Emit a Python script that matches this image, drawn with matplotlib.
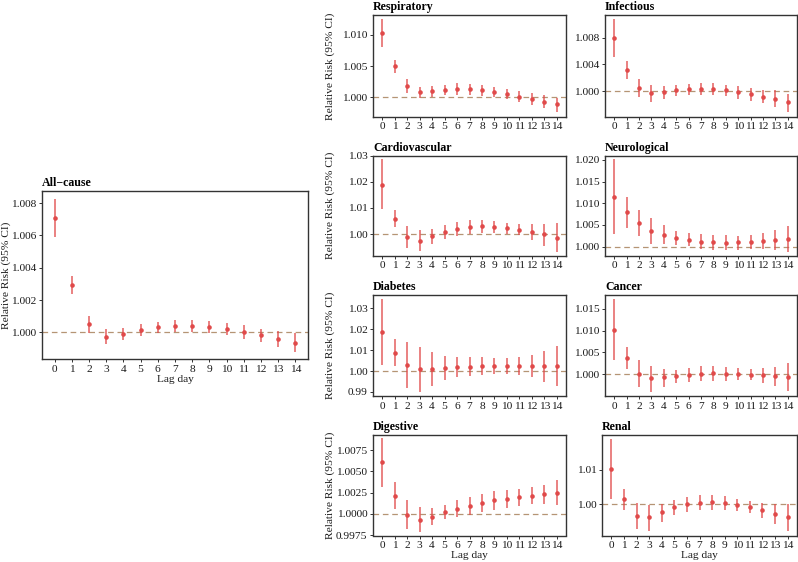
import matplotlib
matplotlib.use("Agg")
import matplotlib.pyplot as plt

plt.rcParams['font.family'] = ['Liberation Serif', 'DejaVu Serif']

# lag days 0..14
lags = list(range(15))

# All-cause
allcause_rr = [1.00705, 1.00291, 1.00049, 0.99973, 0.99990, 1.00012, 1.00031, 1.00041,
               1.00041, 1.00031, 1.00020, 1.00002, 0.99981, 0.99959, 0.99934]
allcause_lo = [1.00588, 1.00235, 0.99994, 0.99928, 0.99953, 0.99980, 0.99998, 1.00004,
               1.00004, 0.99994, 0.99984, 0.99961, 0.99938, 0.99912, 0.99876]
allcause_hi = [1.00823, 1.00348, 1.00101, 1.00021, 1.00025, 1.00050, 1.00064, 1.00076,
               1.00076, 1.00068, 1.00058, 1.00043, 1.00021, 1.00006, 0.99994]

# Respiratory
resp_rr = [1.01021, 1.00500, 1.00181, 1.00080, 1.00101, 1.00117, 1.00128, 1.00128,
           1.00112, 1.00090, 1.00053, 1.00011, 0.99973, 0.99931, 0.99888]
resp_lo = [1.00798, 1.00394, 1.00074, 0.99990, 1.00011, 1.00043, 1.00037, 1.00043,
           1.00021, 1.00000, 0.99979, 0.99931, 0.99878, 0.99830, 0.99771]
resp_hi = [1.01245, 1.00596, 1.00287, 1.00170, 1.00181, 1.00202, 1.00223, 1.00218,
           1.00197, 1.00170, 1.00128, 1.00101, 1.00064, 1.00032, 0.99984]

# Infectious
inf_rr = [1.00790, 1.00315, 1.00050, 0.99975, 0.99985, 1.00015, 1.00030, 1.00035,
          1.00025, 1.00015, 0.99985, 0.99950, 0.99915, 0.99880, 0.99840]
inf_lo = [1.00505, 1.00180, 0.99910, 0.99840, 0.99885, 0.99930, 0.99945, 0.99940,
          0.99940, 0.99920, 0.99885, 0.99855, 0.99815, 0.99755, 0.99690]
inf_hi = [1.01075, 1.00450, 1.00180, 1.00090, 1.00075, 1.00090, 1.00105, 1.00125,
          1.00115, 1.00095, 1.00070, 1.00040, 1.00020, 1.00010, 0.99950]

# Cardiovascular
cardio_rr = [1.01886, 1.00595, 0.99899, 0.99747, 0.99911, 1.00089, 1.00190, 1.00266,
             1.00291, 1.00279, 1.00228, 1.00152, 1.00076, 0.99987, 0.99861]
cardio_lo = [1.00950, 1.00253, 0.99481, 0.99354, 0.99620, 0.99823, 0.99937, 1.00013,
             1.00038, 1.00038, 1.00013, 0.99962, 0.99785, 0.99557, 0.99329]
cardio_hi = [1.02848, 1.00937, 1.00316, 1.00152, 1.00190, 1.00329, 1.00456, 1.00532,
             1.00557, 1.00494, 1.00418, 1.00367, 1.00367, 1.00380, 1.00418]

# Neurological
neuro_rr = [1.01154, 1.00792, 1.00538, 1.00369, 1.00269, 1.00200, 1.00154, 1.00115,
            1.00100, 1.00092, 1.00100, 1.00115, 1.00131, 1.00162, 1.00177]
neuro_lo = [1.00285, 1.00438, 1.00254, 1.00054, 1.00054, 1.00038, 1.00008, 0.99938,
            0.99923, 0.99923, 0.99923, 0.99954, 0.99946, 0.99923, 0.99885]
neuro_hi = [1.02023, 1.01146, 1.00846, 1.00669, 1.00500, 1.00362, 1.00308, 1.00285,
            1.00269, 1.00262, 1.00254, 1.00262, 1.00308, 1.00377, 1.00485]

# Diabetes
diab_rr = [1.01888, 1.00880, 1.00288, 1.00096, 1.00112, 1.00144, 1.00176, 1.00208,
           1.00224, 1.00240, 1.00240, 1.00240, 1.00240, 1.00240, 1.00224]
diab_lo = [1.00288, 1.00240, 0.99200, 0.99008, 0.99296, 0.99568, 0.99696, 0.99760,
           0.99792, 0.99840, 0.99856, 0.99808, 0.99696, 0.99488, 0.99280]
diab_hi = [1.03440, 1.01520, 1.01376, 1.01168, 1.00928, 1.00720, 1.00656, 1.00656,
           1.00656, 1.00640, 1.00640, 1.00672, 1.00760, 1.00960, 1.01200]

# Cancer
cancer_rr = [1.01015, 1.00379, 1.00008, 0.99902, 0.99924, 0.99955, 0.99992, 1.00015,
             1.00023, 1.00015, 1.00008, 0.99992, 0.99977, 0.99955, 0.99939]
cancer_lo = [1.00333, 1.00114, 0.99697, 0.99598, 0.99712, 0.99803, 0.99826, 0.99841,
             0.99841, 0.99848, 0.99864, 0.99856, 0.99803, 0.99727, 0.99621]
cancer_hi = [1.01720, 1.00636, 1.00318, 1.00182, 1.00114, 1.00091, 1.00144, 1.00182,
             1.00189, 1.00159, 1.00152, 1.00129, 1.00144, 1.00167, 1.00258]

# Digestive
dig_rr = [1.00611, 1.00210, 0.99988, 0.99932, 0.99968, 1.00016, 1.00060, 1.00095,
          1.00131, 1.00159, 1.00179, 1.00198, 1.00214, 1.00230, 1.00250]
dig_lo = [1.00318, 1.00060, 0.99821, 0.99790, 0.99865, 0.99940, 0.99964, 0.99988,
          1.00020, 1.00044, 1.00071, 1.00087, 1.00111, 1.00119, 1.00099]
dig_hi = [1.00893, 1.00373, 1.00159, 1.00079, 1.00071, 1.00103, 1.00159, 1.00198,
          1.00238, 1.00266, 1.00286, 1.00298, 1.00318, 1.00345, 1.00393]

# Renal
renal_rr = [1.01019, 1.00143, 0.99667, 0.99619, 0.99762, 0.99905, 1.00000, 1.00048,
            1.00057, 1.00029, 0.99981, 0.99914, 0.99829, 0.99724, 0.99619]
renal_lo = [1.00143, 0.99819, 0.99286, 0.99238, 0.99486, 0.99676, 0.99781, 0.99819,
            0.99819, 0.99819, 0.99800, 0.99733, 0.99610, 0.99438, 0.99238]
renal_hi = [1.01886, 1.00429, 1.00029, 0.99981, 1.00010, 1.00124, 1.00200, 1.00267,
            1.00276, 1.00229, 1.00162, 1.00095, 1.00029, 1.00010, 1.00010]

# y ticks of every panel
allcause_ticks = [1.000, 1.002, 1.004, 1.006, 1.008]
resp_ticks = [1.000, 1.005, 1.010]
inf_ticks = [1.000, 1.004, 1.008]
cardio_ticks = [1.00, 1.01, 1.02, 1.03]
neuro_ticks = [1.000, 1.005, 1.010, 1.015, 1.020]
diab_ticks = [0.99, 1.00, 1.01, 1.02, 1.03]
cancer_ticks = [1.000, 1.005, 1.010, 1.015]
dig_ticks = [0.9975, 1.0000, 1.0025, 1.0050, 1.0075]
renal_ticks = [1.00, 1.01]

W, H = 798, 562
POINT = '#E04A4A'
DASH = '#B59474'
FRAME = '#333333'
FS = 8.2


def px_rect(x0, y0, x1, y1):
    # pixel box (from top-left) -> figure fraction
    return [x0 / W, 1 - y1 / H, (x1 - x0) / W, (y1 - y0) / H]


def draw_panel(ax, title, rr, lo, hi, ticks, ylim, decimals, ylab_x=None, xlabel=False):
    ax.axhline(1.0, color=DASH, lw=0.9, ls=(0, (4.5, 3)), zorder=1)
    ax.vlines(lags, lo, hi, color=POINT, alpha=0.75, lw=1.3, zorder=2)
    ax.plot(lags, rr, 'o', color=POINT, ms=3.3, mew=0, zorder=3)
    ax.set_xlim(-0.74, 14.74)
    ax.set_ylim(*ylim)
    ax.set_xticks(lags)
    ax.set_xticklabels([str(l) for l in lags])
    ax.set_yticks(ticks)
    ax.set_yticklabels([f'{t:.{decimals}f}' for t in ticks])
    for s in ax.spines.values():
        s.set_color(FRAME)
        s.set_linewidth(1.0)
    ax.tick_params(length=2.5, width=0.7, color=FRAME, pad=1.5, labelsize=FS,
                   labelcolor='#1a1a1a')
    ax.set_title(title, loc='left', fontsize=8.6, fontweight='bold', pad=3.5)
    if ylab_x is not None:
        ax.set_ylabel('Relative Risk (95% CI)', fontsize=FS, color='#1a1a1a')
        ax.yaxis.set_label_coords(ylab_x, 0.5)
    if xlabel:
        ax.set_xlabel('Lag day', fontsize=FS, color='#1a1a1a', labelpad=1)


fig = plt.figure(figsize=(W / 100, H / 100), dpi=100)

ax = fig.add_axes(px_rect(42, 191, 308, 359))
draw_panel(ax, 'All\u2212cause', allcause_rr, allcause_lo, allcause_hi, allcause_ticks,
           (0.99835, 1.00875), 3, ylab_x=(11 - 42) / 266, xlabel=True)

colA = (373, 566)
colB = (605, 797)
rows = [(15, 116.7), (155.5, 255.7), (295, 396), (435, 535.5)]
ylabA = (335 - 373) / 193

panels = [
    ('Respiratory', resp_rr, resp_lo, resp_hi, resp_ticks, (0.9969, 1.01315), 3, 0, 0),
    ('Infectious', inf_rr, inf_lo, inf_hi, inf_ticks, (0.99615, 1.0114), 3, 0, 1),
    ('Cardiovascular', cardio_rr, cardio_lo, cardio_hi, cardio_ticks, (0.99176, 1.0300), 2, 1, 0),
    ('Neurological', neuro_rr, neuro_lo, neuro_hi, neuro_ticks, (0.99792, 1.0210), 3, 1, 1),
    ('Diabetes', diab_rr, diab_lo, diab_hi, diab_ticks, (0.98804, 1.0364), 2, 2, 0),
    ('Cancer', cancer_rr, cancer_lo, cancer_hi, cancer_ticks, (0.99498, 1.0182), 3, 2, 1),
    ('Digestive', dig_rr, dig_lo, dig_hi, dig_ticks, (0.99745, 1.00928), 4, 3, 0),
    ('Renal', renal_rr, renal_lo, renal_hi, renal_ticks, (0.99094, 1.0200), 2, 3, 1),
]

for title, rr, lo, hi, ticks, ylim, dec, r, c in panels:
    x0, x1 = colA if c == 0 else colB
    if title == 'Renal':
        x0 = 602
    y0, y1 = rows[r]
    ax = fig.add_axes(px_rect(x0, y0, x1, y1))
    draw_panel(ax, title, rr, lo, hi, ticks, ylim, dec,
               ylab_x=ylabA if c == 0 else None, xlabel=(r == 3))

fig.savefig('out.png', dpi=100)
